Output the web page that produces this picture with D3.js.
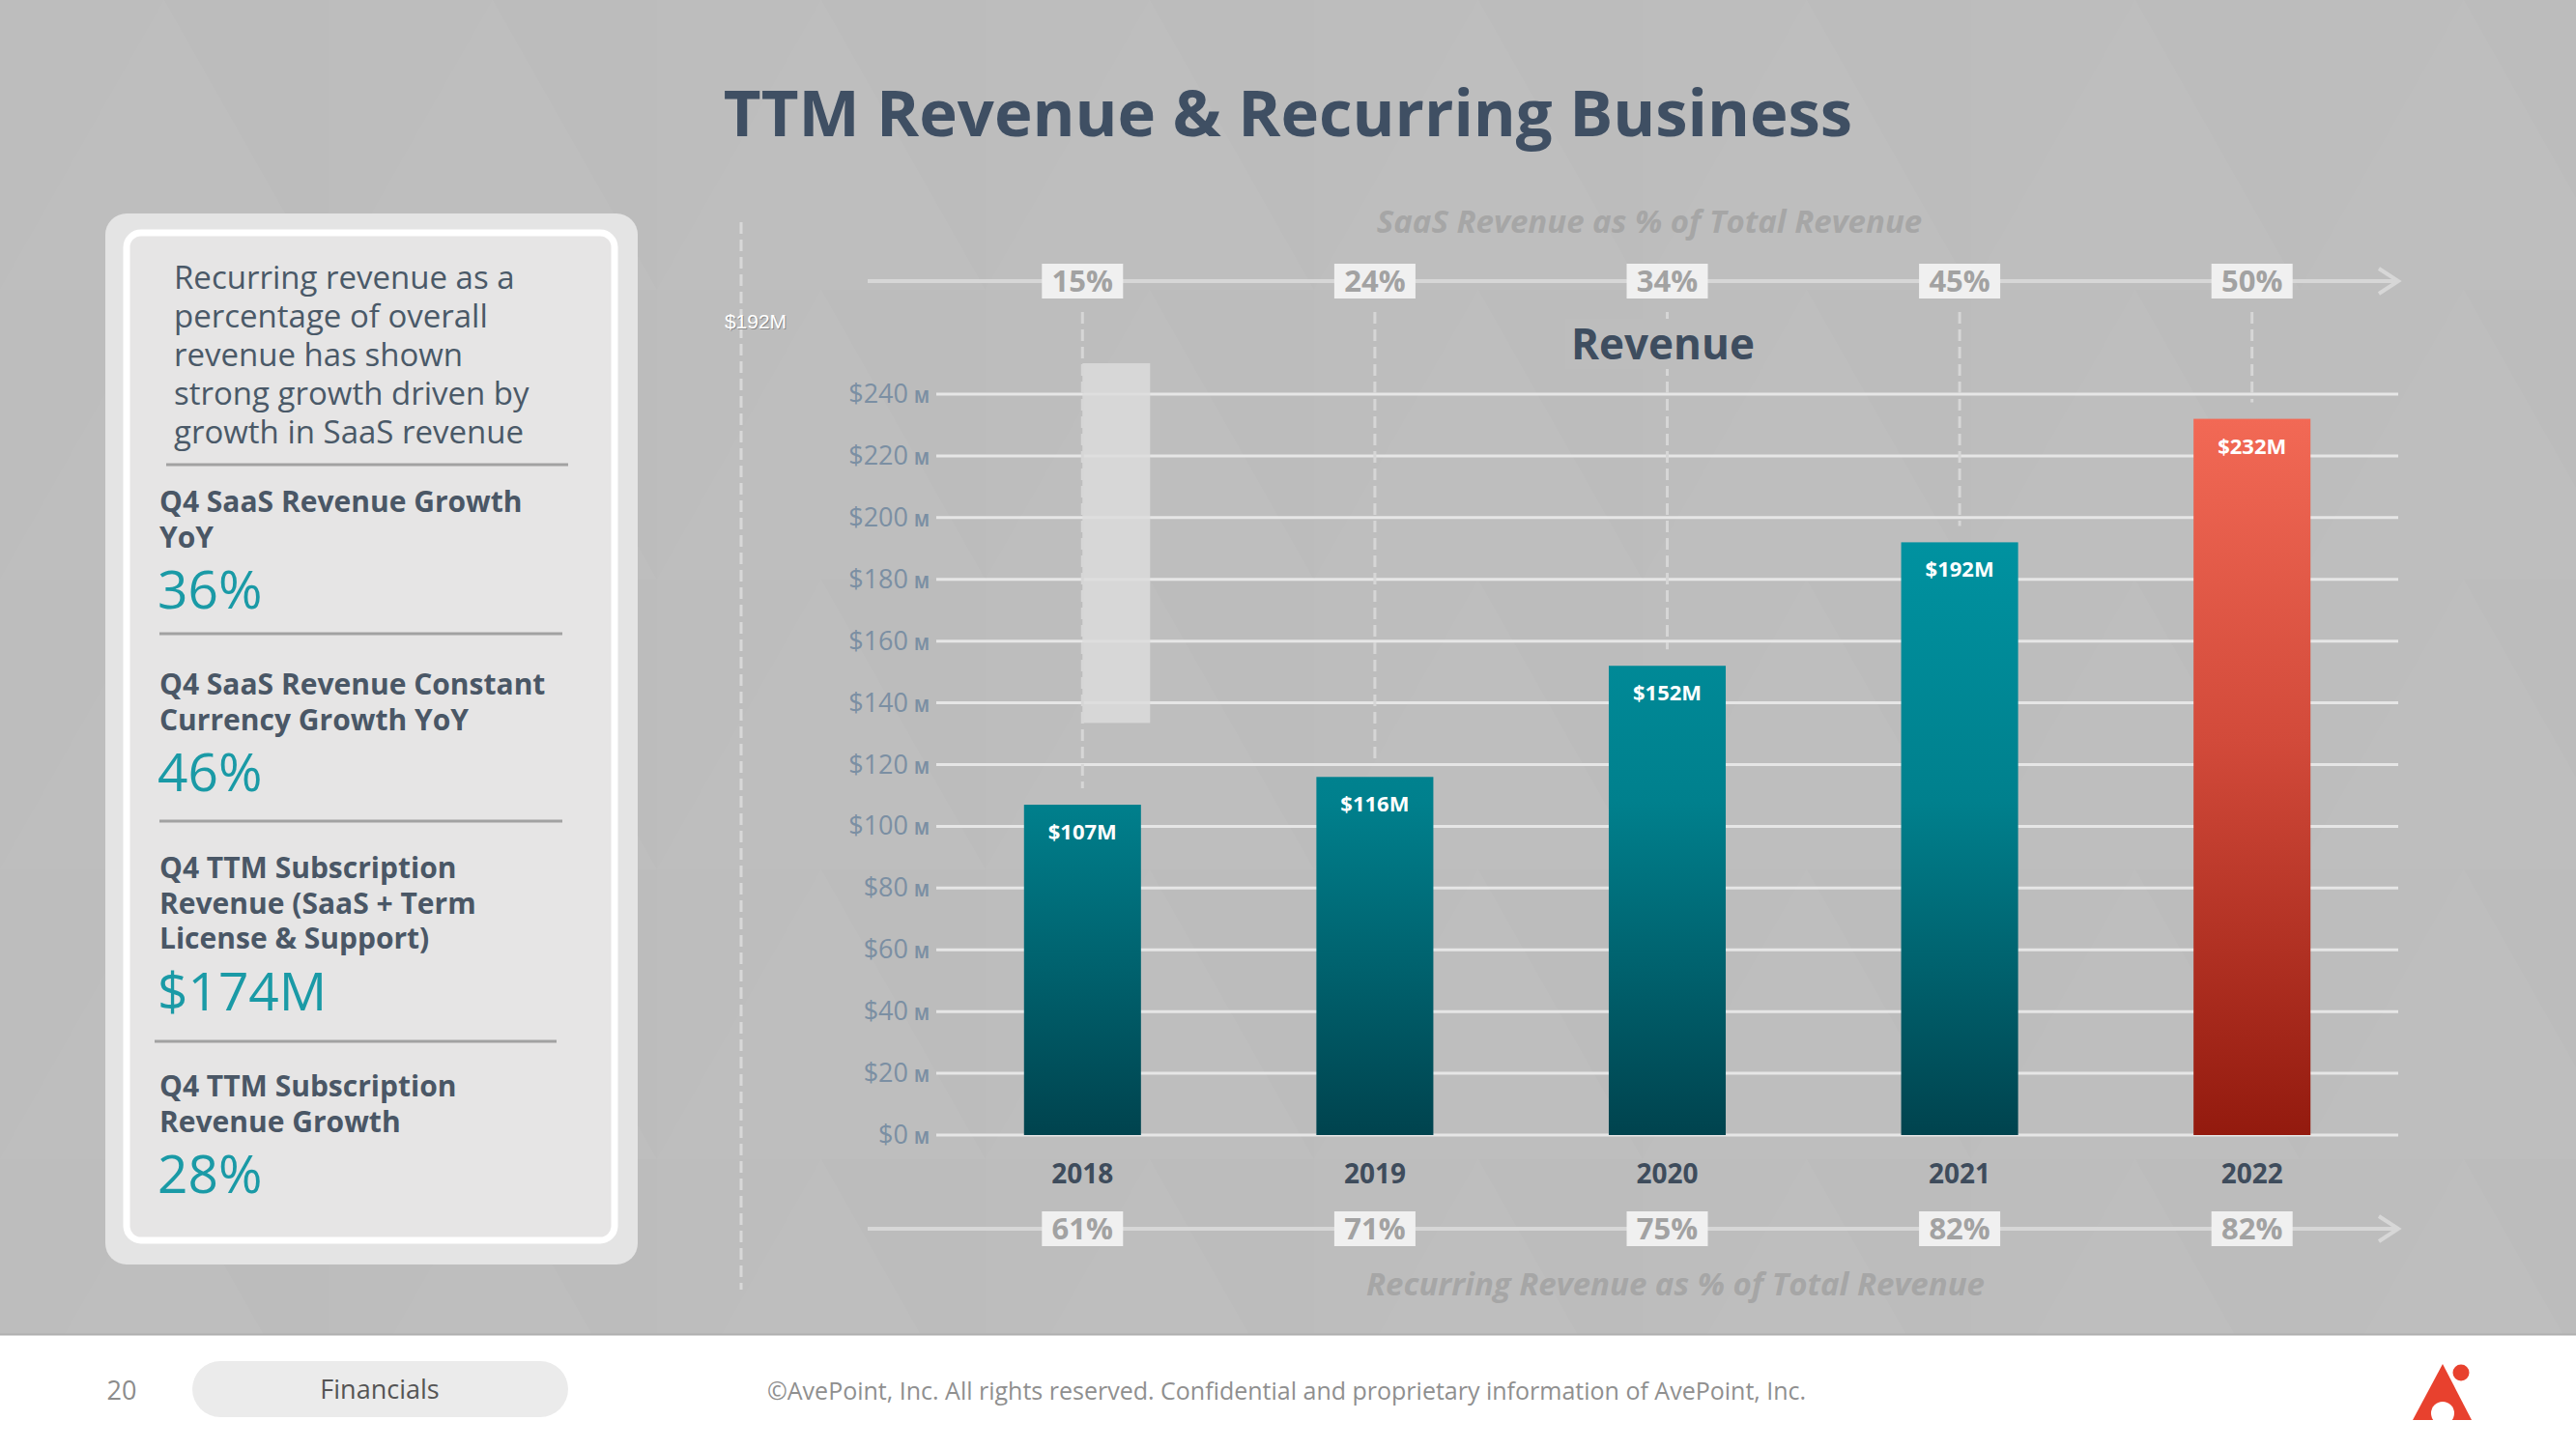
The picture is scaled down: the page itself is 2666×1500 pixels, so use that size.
<!DOCTYPE html>
<html><head><meta charset="utf-8">
<script src="https://cdn.jsdelivr.net/npm/d3@7"></script>
<style>
html,body{margin:0;padding:0;background:#fff;}
svg{display:block;font-family:"Open Sans",sans-serif;}
</style></head>
<body>
<script>
// ---- data ----
const years = ["2018","2019","2020","2021","2022"];
const revenue = [107, 116, 152, 192, 232];
const revenueLabels = ["$107M","$116M","$152M","$192M","$232M"];
const saasPct = ["15%","24%","34%","45%","50%"];
const recurringPct = ["61%","71%","75%","82%","82%"];
const yTicks = [0,20,40,60,80,100,120,140,160,180,200,220,240];
const ghostRange = [133.5, 250]; // faint rectangle behind 2018
const panelPara = ["Recurring revenue as a","percentage of overall","revenue has shown","strong growth driven by","growth in SaaS revenue"];
const kpiTitles = [["Q4 SaaS Revenue Growth","YoY"],["Q4 SaaS Revenue Constant","Currency Growth YoY"],["Q4 TTM Subscription","Revenue (SaaS + Term","License & Support)"],["Q4 TTM Subscription","Revenue Growth"]];
const kpiValues = ["36%","46%","$174M","28%"];

const W = 2666, H = 1500;
const svg = d3.select("body").append("svg").attr("width", W).attr("height", H);
const defs = svg.append("defs");

// background with faint triangle texture
svg.append("rect").attr("x",0).attr("y",0).attr("width",W).attr("height",1381).attr("fill","#bdbdbd");
const pat = defs.append("pattern").attr("id","tri").attr("patternUnits","userSpaceOnUse")
  .attr("width",340).attr("height",300);
pat.append("path").attr("d","M0,300 L170,0 L340,300 Z").attr("fill","#ffffff").attr("opacity",0.018);
pat.append("path").attr("d","M170,0 L340,300 L340,0 Z").attr("fill","#000000").attr("opacity",0.008);
svg.append("rect").attr("x",0).attr("y",0).attr("width",W).attr("height",1381).attr("fill","url(#tri)");
svg.append("rect").attr("x",0).attr("y",1381).attr("width",W).attr("height",H-1381).attr("fill","#ffffff");
svg.append("line").attr("x1",0).attr("x2",W).attr("y1",1381.5).attr("y2",1381.5).attr("stroke","#b0b0b0").attr("stroke-width",2);

// title
svg.append("text").attr("x",1333).attr("y",141).attr("text-anchor","middle")
  .attr("font-size",67).attr("font-weight",700).attr("fill","#3f4f63")
  .text("TTM Revenue & Recurring Business");

// ---- left panel ----
svg.append("rect").attr("x",109).attr("y",221).attr("width",551).attr("height",1088).attr("rx",22).attr("fill","#e4e4e4");
svg.append("rect").attr("x",131).attr("y",241).attr("width",505).attr("height",1043).attr("rx",15)
  .attr("fill","#e6e5e5").attr("stroke","#ffffff").attr("stroke-width",7);

const para = svg.append("text").attr("font-size",33).attr("fill","#4a5968");
panelPara.forEach((t,i)=>para.append("tspan").attr("x",180).attr("y",299+i*40).text(t));

const sepYs = [481, 656, 850, 1078];
const sepX = [[172,588],[165,582],[165,582],[160,576]];
sepYs.forEach((y,i)=>svg.append("line").attr("x1",sepX[i][0]).attr("x2",sepX[i][1]).attr("y1",y).attr("y2",y)
  .attr("stroke","#a2a2a2").attr("stroke-width",3));

const kpiTop = [530, 719, 909, 1135];
const kpiValY = [630, 819, 1046, 1235];
kpiTitles.forEach((lines,i)=>{
  const t = svg.append("text").attr("font-size",30).attr("font-weight",700).attr("fill","#4a5766");
  lines.forEach((l,j)=>t.append("tspan").attr("x",165).attr("y",kpiTop[i]+j*36.5).text(l));
  svg.append("text").attr("x",163).attr("y",kpiValY[i]).attr("font-size",55).attr("fill","#1a9aa6").text(kpiValues[i]);
});

// ---- chart ----
const x = d3.scaleBand().domain(years).range([969, 2482]).paddingInner(0.6).paddingOuter(0.3);
const y = d3.scaleLinear().domain([0,240]).range([1175, 408]);
const cx = d => x(d) + x.bandwidth()/2;

// gradients (userSpace across plot height)
const gT = defs.append("linearGradient").attr("id","gTeal").attr("gradientUnits","userSpaceOnUse")
  .attr("x1",0).attr("x2",0).attr("y1",y(240)).attr("y2",y(0));
[[0,"#009cab"],[0.55,"#00808d"],[1,"#00434e"]].forEach(s=>gT.append("stop").attr("offset",s[0]).attr("stop-color",s[1]));
const gR = defs.append("linearGradient").attr("id","gRed").attr("gradientUnits","userSpaceOnUse")
  .attr("x1",0).attr("x2",0).attr("y1",y(232)).attr("y2",y(0));
[[0,"#f26955"],[0.45,"#d24a3a"],[1,"#931a0e"]].forEach(s=>gR.append("stop").attr("offset",s[0]).attr("stop-color",s[1]));

// left dashed line + stray label
svg.append("line").attr("x1",767).attr("x2",767).attr("y1",230).attr("y2",1335)
  .attr("stroke","#d8d8d8").attr("stroke-width",3).attr("stroke-dasharray","12 6");
svg.append("text").attr("x",783).attr("y",341).attr("text-anchor","middle").attr("font-family","Liberation Sans, Arial, sans-serif")
  .attr("font-size",21).attr("fill","#8a8a8a").text("$192M");
svg.append("text").attr("x",782).attr("y",340).attr("text-anchor","middle").attr("font-family","Liberation Sans, Arial, sans-serif")
  .attr("font-size",21).attr("fill","#ffffff").text("$192M");

// gridlines
svg.append("g").selectAll("line").data(yTicks).join("line")
  .attr("x1",969).attr("x2",2482).attr("y1",d=>y(d)).attr("y2",d=>y(d))
  .attr("stroke","#e6e6e6").attr("stroke-width",3);

// y labels
const yl = svg.append("g").selectAll("text").data(yTicks).join("text")
  .attr("x",962).attr("y",d=>y(d)+9).attr("text-anchor","end").attr("fill","#7b8fa3");
yl.append("tspan").attr("font-size",27).text(d=>"$"+d);
yl.append("tspan").attr("font-size",17).attr("font-weight",700).attr("dx",6).text("M");

// ghost rect
svg.append("rect").attr("x",cx("2018")).attr("width",70).attr("y",y(ghostRange[1])).attr("height",y(ghostRange[0])-y(ghostRange[1]))
  .attr("fill","#dcdcdc").attr("opacity",0.85);

// dashed connectors
svg.append("g").selectAll("line").data(years).join("line")
  .attr("x1",d=>cx(d)).attr("x2",d=>cx(d)).attr("y1",323).attr("y2",(d,i)=>y(revenue[i])-17)
  .attr("stroke","#d6d6d6").attr("stroke-width",3).attr("stroke-dasharray","12 6");

// Revenue label with bg patch
svg.append("rect").attr("x",1620).attr("y",330).attr("width",205).attr("height",52).attr("fill","#bdbdbd");
svg.append("text").attr("x",1721).attr("y",372).attr("text-anchor","middle").attr("font-size",44).attr("font-weight",700)
  .attr("fill","#3e4d5f").text("Revenue");

// bars
svg.append("g").selectAll("rect").data(years).join("rect")
  .attr("x",d=>x(d)).attr("width",x.bandwidth())
  .attr("y",(d,i)=>y(revenue[i])).attr("height",(d,i)=>y(0)-y(revenue[i]))
  .attr("fill",(d,i)=> i===4 ? "url(#gRed)" : "url(#gTeal)");
svg.append("g").selectAll("text").data(years).join("text")
  .attr("x",d=>cx(d)).attr("y",(d,i)=>y(revenue[i])+36).attr("text-anchor","middle")
  .attr("font-size",22).attr("font-weight",700).attr("fill","#ffffff").text((d,i)=>revenueLabels[i]);

// x labels
svg.append("g").selectAll("text").data(years).join("text")
  .attr("x",d=>cx(d)).attr("y",1225).attr("text-anchor","middle")
  .attr("font-size",28).attr("font-weight",700).attr("fill","#3e4c5c").text(d=>d);

// arrows with pct boxes
function pctRow(yy, labels){
  const g = svg.append("g");
  g.append("line").attr("x1",898).attr("x2",2480).attr("y1",yy).attr("y2",yy).attr("stroke","#d7d7d7").attr("stroke-width",4);
  g.append("polyline").attr("points",`${2462},${yy-13} ${2482},${yy} ${2462},${yy+13}`).attr("fill","none")
    .attr("stroke","#d7d7d7").attr("stroke-width",4);
  const b = g.selectAll("g").data(years).join("g");
  b.append("rect").attr("x",d=>cx(d)-42).attr("y",yy-18).attr("width",84).attr("height",36).attr("fill","#f0f0f0");
  b.append("text").attr("x",d=>cx(d)).attr("y",yy+11).attr("text-anchor","middle").attr("font-size",31)
    .attr("font-weight",700).attr("fill","#a2a2a2").text((d,i)=>labels[i]);
}
pctRow(291, saasPct);
pctRow(1272, recurringPct);

svg.append("text").attr("x",1707).attr("y",241).attr("text-anchor","middle").attr("font-size",33).attr("font-weight",700)
  .attr("font-style","italic").attr("fill","#a6a6a6").text("SaaS Revenue as % of Total Revenue");
svg.append("text").attr("x",1734).attr("y",1341).attr("text-anchor","middle").attr("font-size",33).attr("font-weight",700)
  .attr("font-style","italic").attr("fill","#a6a6a6").text("Recurring Revenue as % of Total Revenue");

// ---- footer ----
svg.append("text").attr("x",126).attr("y",1449).attr("text-anchor","middle").attr("font-size",27).attr("fill","#8c8c8c").text("20");
svg.append("rect").attr("x",199).attr("y",1409).attr("width",389).attr("height",58).attr("rx",29).attr("fill","#ebebeb");
svg.append("text").attr("x",393).attr("y",1448).attr("text-anchor","middle").attr("font-size",27).attr("fill","#555555").text("Financials");
svg.append("text").attr("x",794).attr("y",1449).attr("font-size",25).attr("fill","#8f8f8f")
  .text("©AvePoint, Inc. All rights reserved. Confidential and proprietary information of AvePoint, Inc.");
// logo
const logo = svg.append("g");
logo.append("path").attr("d","M2528,1412 L2558,1470 L2497,1470 Z").attr("fill","#e8412e");
logo.append("circle").attr("cx",2528).attr("cy",1463).attr("r",12).attr("fill","#ffffff");
logo.append("circle").attr("cx",2547).attr("cy",1421).attr("r",8.5).attr("fill","#e8412e");
</script>
</body></html>
